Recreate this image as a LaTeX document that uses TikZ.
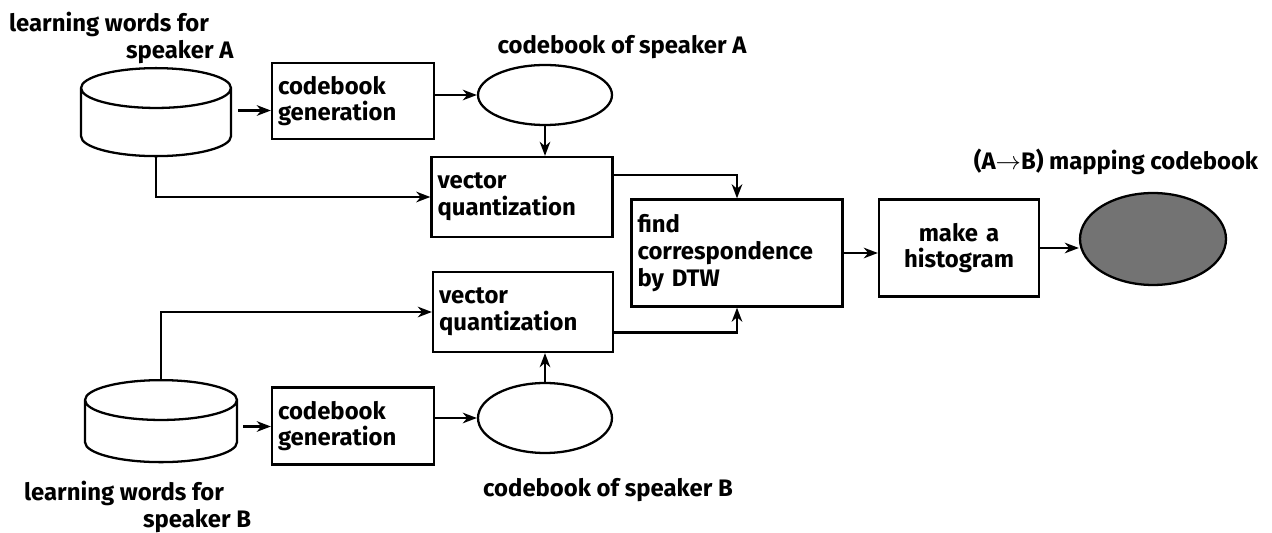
\documentclass[tikz,border=0pt]{standalone}
\usepackage{fontspec}
\setmainfont{Fira Sans}
\usetikzlibrary{arrows.meta,shapes.geometric,positioning,calc}

\begin{document}
\begin{tikzpicture}[
        x=0.02cm, y=-0.02cm,
        ->,>={Stealth[length=8pt,width=6pt,inset=2.5pt]}, line width=1.3pt,
        font=\bfseries\fontsize{13.6}{15.2}\selectfont
    ]

    \tikzstyle{block} = [rectangle,draw,align=left,inner sep=0.12cm]
    \tikzstyle{disk} = [cylinder,draw,shape border rotate=90,aspect=3.4,minimum width=3cm,minimum height=1.76cm]
    \tikzstyle{book} = [ellipse,draw,inner sep=0pt,minimum width=2.68cm,minimum height=1.2cm]
    \tikzstyle{caption} = [align=left,inner sep=0pt]

    \useasboundingbox (0,0) rectangle (1272,533);

    \node[disk,anchor=north] (diskA) at (156,67) {};
    \node[block,text width=3cm,minimum height=1.52cm] (genA) at (353,101) {codebook\\generation};
    \node[book] (bookA) at (545,95) {};
    \node[block,text width=3.38cm,minimum height=1.6cm] (vqA) at (522,197) {vector\\quantization};
    \node[block,text width=3.98cm,minimum height=2.14cm] (dtw) at (737,253) {find\\correspondence\\by DTW};
    \node[block,text width=3.36cm,minimum height=1.6cm] (vqB) at (523,312) {vector\\quantization};
    \node[book,minimum height=1.4cm] (bookB) at (545,418) {};
    \node[disk,anchor=north,minimum width=3.04cm,minimum height=1.64cm] (diskB) at (161,379) {};
    \node[block,text width=3cm,minimum height=1.54cm] (genB) at (353,426) {codebook\\generation};
    \node[block,align=center,text width=2.96cm,minimum height=1.94cm] (hist) at (959,248) {make a\\histogram};
    \node[book,fill=black!55,minimum width=2.92cm,minimum height=1.84cm] (map) at (1153,239) {};

    % captions
    \node[caption,anchor=north west] (wordsA) at (8,11) {learning words for\\\hspace*{2.34cm}speaker A};
    \node[caption,anchor=north west] (wordsB) at (23,480) {learning words for\\\hspace*{2.38cm}speaker B};
    \node (nameA) at (622,47) {codebook of speaker A};
    \node (nameB) at (608,490) {codebook of speaker B};
    \node (nameMap) at (1116,162) {(A$\rightarrow$B) mapping codebook};

    \path[]
        ([shift={(0.12cm,0.32cm)}]diskA.east) edge ([yshift=0.32cm]diskA.east -| genA.west)
        (genA.east |- bookA)  edge (bookA.west)
        (bookA.south)         edge (bookA.south |- vqA.north)
        ([shift={(0.1cm,0.18cm)}]diskB.east) edge ([yshift=0.18cm]diskB.east -| genB.west)
        (genB.east |- bookB)  edge (bookB.west)
        (bookB.north)         edge (bookB.north |- vqB.south)
        (dtw.east)            edge (dtw.east -| hist.west)
        (hist.east)           edge (hist.east -| map.west)
    ;

    \draw (diskA.south) |- (vqA.west);
    \draw (diskB.north) |- (vqB.west);
    \draw ($(vqA.north east)!0.23!(vqA.south east)$) -| (dtw.north);
    \draw ($(vqB.north east)!0.75!(vqB.south east)$) -| (dtw.south);

\end{tikzpicture}
\end{document}
